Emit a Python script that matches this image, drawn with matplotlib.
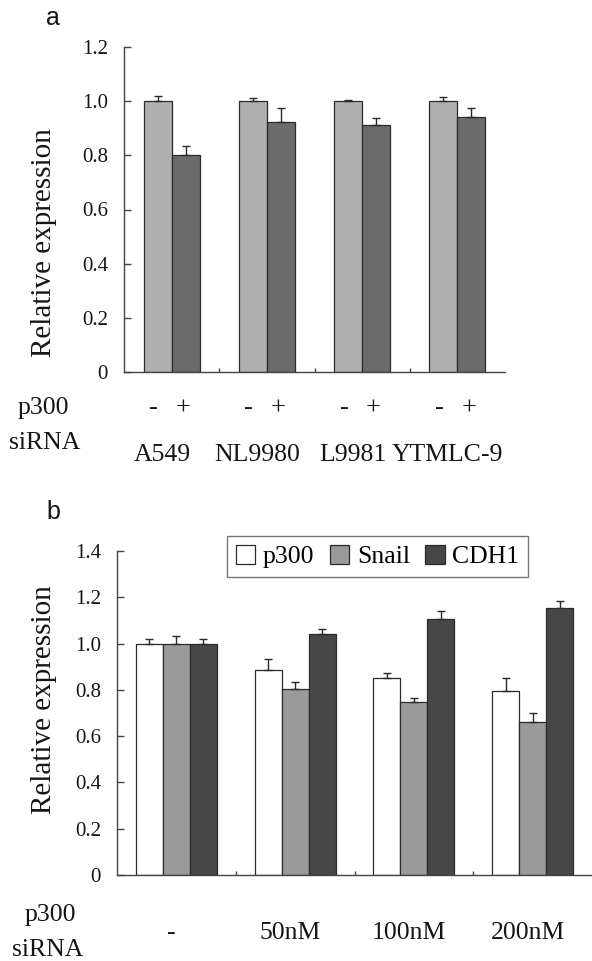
import matplotlib.pyplot as plt
import numpy as np

# panel a data
cells = ['A549', 'NL9980', 'L9981', 'YTMLC-9']
ctrl_a = [1.0, 1.0, 1.0, 1.0]
ctrl_a_err = [0.02, 0.01, 0.006, 0.014]
sirna_a = [0.802, 0.924, 0.911, 0.943]
sirna_a_err = [0.031, 0.049, 0.028, 0.031]

# panel b data
doses = ['-', '50nM', '100nM', '200nM']
p300 = [1.0, 0.884, 0.850, 0.795]
p300_err = [0.02, 0.05, 0.024, 0.055]
snail = [1.0, 0.804, 0.747, 0.663]
snail_err = [0.034, 0.03, 0.019, 0.039]
cdh1 = [1.0, 1.041, 1.105, 1.153]
cdh1_err = [0.02, 0.02, 0.035, 0.03]

serif = 'Liberation Serif'
ink = '#151515'
edge = '#2a2a2a'

fig = plt.figure(figsize=(5.92, 9.61), dpi=100)

def style_axis(ax, ymax, step):
    for s in ['top', 'right']:
        ax.spines[s].set_visible(False)
    for s in ['left', 'bottom']:
        ax.spines[s].set_color('#444444')
        ax.spines[s].set_linewidth(1.0)
    ax.set_xlim(-0.5, 3.5)
    ax.set_ylim(0, ymax)
    yt = np.arange(0, ymax + 0.001, step)
    ax.set_yticks(yt)
    ax.set_yticklabels(['0'] + ['%.1f' % v for v in yt[1:]], fontfamily=serif, fontsize=15, color=ink)
    ax.tick_params(axis='y', direction='in', length=5, width=1, color='#444444', pad=11.5)
    ax.set_xticks([0.5, 1.5, 2.5])
    ax.set_xticklabels([])
    ax.tick_params(axis='x', direction='in', length=3, width=1, color='#444444')

# ---- panel a ----
ax1 = fig.add_axes([124/592, 1 - 372/961, 381/592, 325/961])
x = np.arange(len(cells))
w = 0.294
ekw = dict(ecolor=edge, elinewidth=1, capthick=1)
ax1.bar(x - w/2, ctrl_a, w, color='#b0b0b0', edgecolor=edge, linewidth=0.9,
        yerr=[np.zeros(4), ctrl_a_err], capsize=3, error_kw=ekw)
ax1.bar(x + w/2, sirna_a, w, color='#6b6b6b', edgecolor=edge, linewidth=0.9,
        yerr=[np.zeros(4), sirna_a_err], capsize=3, error_kw=ekw)
style_axis(ax1, 1.2, 0.2)

tr = ax1.get_xaxis_transform()
for i, c in enumerate(cells):
    ax1.text(i - 0.19, -0.111, '-', transform=tr, ha='center', va='center', fontfamily=serif, fontsize=19, color=ink)
    ax1.text(i + 0.12, -0.111, '+', transform=tr, ha='center', va='center', fontfamily=serif, fontsize=19, color=ink)
    ax1.text(i - 0.1, -0.255, c, transform=tr, ha='center', va='center', fontfamily=serif, fontsize=18.5, color=ink)
fig.text(43/592, 1 - 408/961, 'p300', ha='center', va='center', fontfamily=serif, fontsize=18.5, color=ink)
fig.text(45/592, 1 - 443/961, 'siRNA', ha='center', va='center', fontfamily=serif, fontsize=18.5, color=ink)
fig.text(44/592, 1 - 243/961, 'Relative expression', rotation=90, ha='center', va='center',
         fontfamily=serif, fontsize=21, color=ink)
fig.text(53/592, 1 - 18/961, 'a', ha='center', va='center', fontfamily='Liberation Sans', fontsize=18, color=ink)

# ---- panel b ----
ax2 = fig.add_axes([117/592, 1 - 875/961, 475/592, 324/961])
w2 = 0.227
b1 = ax2.bar(x - w2, p300, w2, color='white', edgecolor=edge, linewidth=0.9,
             yerr=[np.zeros(4), p300_err], capsize=3, error_kw=ekw, label='p300')
b2 = ax2.bar(x, snail, w2, color='#9a9a9a', edgecolor=edge, linewidth=0.9,
             yerr=[np.zeros(4), snail_err], capsize=3, error_kw=ekw, label='Snail')
b3 = ax2.bar(x + w2, cdh1, w2, color='#474747', edgecolor=edge, linewidth=0.9,
             yerr=[np.zeros(4), cdh1_err], capsize=3, error_kw=ekw, label='CDH1')
style_axis(ax2, 1.4, 0.2)

leg = ax2.legend(handles=[b1, b2, b3], loc='upper left', bbox_to_anchor=(0.2316, 1.046), ncol=3,
                 prop=dict(family=serif, size=18.5), frameon=True, fancybox=False,
                 handlelength=0.75, handleheight=0.75, handletextpad=0.3, columnspacing=0.6,
                 borderpad=0.35, borderaxespad=0)
leg.get_frame().set_edgecolor('#555555')
leg.get_frame().set_linewidth(1.0)

tr2 = ax2.get_xaxis_transform()
for i, d in enumerate(doses):
    ax2.text(i - 0.04, -0.179, d, transform=tr2, ha='center', va='center', fontfamily=serif, fontsize=18.5, color=ink)
fig.text(50/592, 1 - 915/961, 'p300', ha='center', va='center', fontfamily=serif, fontsize=18.5, color=ink)
fig.text(48/592, 1 - 950/961, 'siRNA', ha='center', va='center', fontfamily=serif, fontsize=18.5, color=ink)
fig.text(44/592, 1 - 700/961, 'Relative expression', rotation=90, ha='center', va='center',
         fontfamily=serif, fontsize=21, color=ink)
fig.text(53/592, 1 - 512/961, 'b', ha='center', va='center', fontfamily='Liberation Sans', fontsize=18, color=ink)

fig.savefig('out.png', dpi=100)
